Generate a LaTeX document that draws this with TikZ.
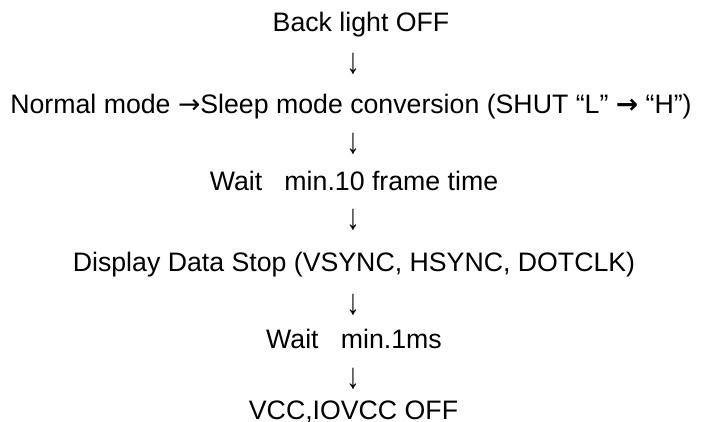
\documentclass[tikz,border=0pt]{standalone}
\usepackage{fontspec}
\setmainfont{Liberation Sans}
\newfontfamily\arrowfont{DejaVu Sans}
\newcommand{\downarr}{\scalebox{1}[1.35]{↓}}
\begin{document}
\begin{tikzpicture}[x=1pt,y=1pt,
  txt/.style={inner sep=0pt, font=\fontsize{26.7}{30}\selectfont, anchor=base},
  arr/.style={inner sep=0pt, font=\fontsize{26.7}{30}\selectfont, anchor=base}]
\useasboundingbox (0,0) rectangle (701,-421);
\node[txt] (t1) at (361,-31) {Back light OFF};
\node[arr] (a1) at (353,-73.5) {\downarr};
\node[txt] (t2) at (351,-113) {Normal mode {\arrowfont →}Sleep mode conversion (SHUT “L” {\arrowfont\bfseries →} “H”)};
\node[arr] (a2) at (353,-153.5) {\downarr};
\node[txt] (t3) at (354,-190) {Wait\ \ \ min.10 frame time};
\node[arr] (a3) at (353,-229.5) {\downarr};
\node[txt] (t4) at (354,-271) {Display Data Stop (VSYNC, HSYNC, DOTCLK)};
\node[arr] (a4) at (353,-314.5) {\downarr};
\node[txt] (t5) at (354,-348) {Wait\ \ \ min.1ms};
\node[arr] (a5) at (353,-388.5) {\downarr};
\node[txt] (t6) at (353.5,-419) {VCC,IOVCC OFF};
\end{tikzpicture}
\end{document}
